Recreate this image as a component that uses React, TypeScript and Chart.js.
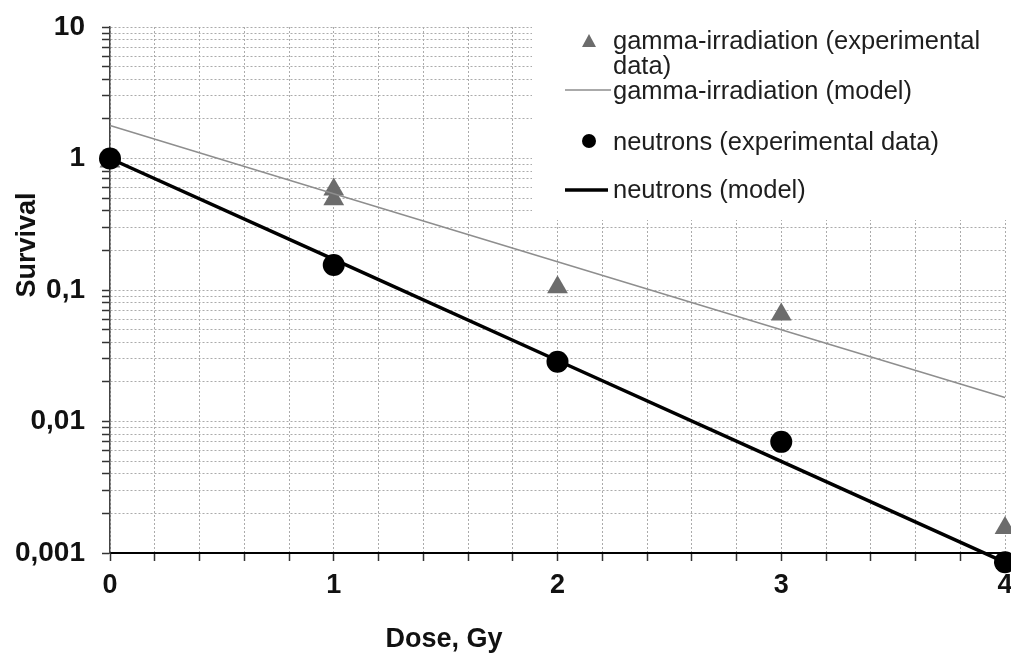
import React, { useEffect, useRef } from 'react';
import { Chart, registerables } from 'chart.js';

Chart.register(...registerables);

// ---- data ----
const doses = [0, 1, 2, 3, 4];
const gammaExpDoses = [0, 1, 1, 2, 3, 4];
const gammaExpSurvival = [0.95, 0.58, 0.49, 0.105, 0.065, 0.00155];
const gammaModelSurvival = [1.78, 0.54, 0.164, 0.0498, 0.0152];
const neutronExpSurvival = [1.0, 0.155, 0.0285, 0.007, 0.00085];
const neutronModelSurvival = [1.0, 0.171, 0.0291, 0.00498, 0.00085];

const yDecades = [0.001, 0.01, 0.1, 1];
const yMajorTicks = [0.001, 0.01, 0.1, 1, 10];
const yTickLabels = ['0,001', '0,01', '0,1', '1', '10'];
const xTickLabels = ['0', '1', '2', '3', '4'];

const legendLabels = [
  ['gamma-irradiation (experimental', 'data)'],
  ['gamma-irradiation (model)'],
  ['neutrons (experimental data)'],
  ['neutrons (model)'],
];
const xTitle = 'Dose, Gy';
const yTitle = 'Survival';

const FONT = '"Liberation Sans", Arial, sans-serif';
const GAMMA_PT = '#6c6c6c';
const GAMMA_LINE = '#8e8e8e';
const GRID = '#ababab';

const yTickValues: number[] = [];
yDecades.forEach((d) => {
  for (let m = 1; m <= 9; m++) yTickValues.push(parseFloat((d * m).toPrecision(6)));
});
yTickValues.push(yMajorTicks[yMajorTicks.length - 1]);

const pts = (xs: number[], ys: number[]) => xs.map((x, i) => ({ x, y: ys[i] }));

const overlayPlugin = {
  id: 'overlay',
  beforeDatasetsDraw(chart: any) {
    const ctx = chart.ctx;
    ctx.save();
    // white legend panel covering the grid
    ctx.fillStyle = '#ffffff';
    ctx.fillRect(532, 0, chart.width - 532, 220);

    ctx.font = `25.5px ${FONT}`;
    ctx.fillStyle = '#1e1e1e';
    ctx.textAlign = 'left';
    ctx.textBaseline = 'middle';
    const tx = 613;
    // row 1: triangle
    ctx.fillStyle = GAMMA_PT;
    ctx.beginPath();
    ctx.moveTo(589, 34);
    ctx.lineTo(596, 47);
    ctx.lineTo(582, 47);
    ctx.closePath();
    ctx.fill();
    ctx.fillStyle = '#1e1e1e';
    ctx.fillText(legendLabels[0][0], tx, 42);
    ctx.fillText(legendLabels[0][1], tx, 67);
    // row 2: thin gray line
    ctx.strokeStyle = GAMMA_LINE;
    ctx.lineWidth = 1.5;
    ctx.beginPath();
    ctx.moveTo(565, 90);
    ctx.lineTo(611, 90);
    ctx.stroke();
    ctx.fillText(legendLabels[1][0], tx, 92);
    // row 3: circle
    ctx.fillStyle = '#000';
    ctx.beginPath();
    ctx.arc(589, 141, 7, 0, Math.PI * 2);
    ctx.fill();
    ctx.fillStyle = '#1e1e1e';
    ctx.fillText(legendLabels[2][0], tx, 143);
    // row 4: thick black line
    ctx.strokeStyle = '#000';
    ctx.lineWidth = 3.5;
    ctx.beginPath();
    ctx.moveTo(565, 190);
    ctx.lineTo(608, 190);
    ctx.stroke();
    ctx.fillText(legendLabels[3][0], tx, 191);
    ctx.restore();
  },
  afterDraw(chart: any) {
    const ctx = chart.ctx;
    ctx.save();
    ctx.fillStyle = '#111';
    ctx.font = `bold 27px ${FONT}`;
    ctx.textAlign = 'center';
    ctx.textBaseline = 'middle';
    ctx.fillText(xTitle, 444, 640);
    ctx.translate(28, 245);
    ctx.rotate(-Math.PI / 2);
    ctx.fillText(yTitle, 0, 0);
    ctx.restore();
  },
};

export default function App() {
  const ref = useRef<HTMLCanvasElement | null>(null);

  useEffect(() => {
    if (!ref.current) return;
    const chart = new Chart(ref.current, {
      type: 'scatter',
      data: {
        datasets: [
          {
            label: legendLabels[2][0],
            data: pts(doses, neutronExpSurvival),
            pointStyle: 'circle',
            pointRadius: 11,
            backgroundColor: '#000',
            borderColor: '#000',
            borderWidth: 0,
            showLine: false,
            clip: false,
            order: 1,
          },
          {
            label: legendLabels[3][0],
            data: pts(doses, neutronModelSurvival),
            showLine: true,
            borderColor: '#000',
            borderWidth: 3.5,
            pointRadius: 0,
            clip: false,
            order: 2,
          },
          {
            label: legendLabels[1][0],
            data: pts(doses, gammaModelSurvival),
            showLine: true,
            borderColor: GAMMA_LINE,
            borderWidth: 1.5,
            pointRadius: 0,
            clip: false,
            order: 3,
          },
          {
            label: legendLabels[0].join(' '),
            data: pts(gammaExpDoses, gammaExpSurvival),
            pointStyle: 'triangle',
            pointRadius: 12,
            backgroundColor: GAMMA_PT,
            borderColor: GAMMA_PT,
            borderWidth: 0,
            showLine: false,
            clip: false,
            order: 4,
          },
        ],
      },
      options: {
        animation: false,
        responsive: true,
        maintainAspectRatio: false,
        layout: { padding: { top: 27, right: 7, left: 0, bottom: 0 } },
        plugins: {
          legend: { display: false },
          tooltip: { enabled: false },
          title: { display: false },
        },
        scales: {
          x: {
            type: 'linear',
            min: 0,
            max: 4,
            afterFit: (s: any) => {
              s.height = 106;
              s.paddingLeft = 0;
              s.paddingRight = 0;
            },
            ticks: {
              stepSize: 0.2,
              autoSkip: false,
              maxRotation: 0,
              padding: 8,
              color: '#111',
              font: { family: FONT, size: 27, weight: 'bold' },
              callback: (v: any) => {
                const n = Number(v);
                const r = Math.round(n);
                return Math.abs(n - r) < 1e-6 ? xTickLabels[r] ?? '' : '';
              },
            },
            grid: {
              color: GRID,
              lineWidth: 1,
              tickLength: 8,
              tickColor: '#333',
              tickWidth: 1.5,
            },
            border: { color: '#000', width: 2, dash: [2, 2] },
          },
          y: {
            type: 'logarithmic',
            min: 0.001,
            max: 10,
            afterFit: (s: any) => {
              s.width = 110;
              s.paddingTop = 0;
              s.paddingBottom = 0;
            },
            afterBuildTicks: (s: any) => {
              s.ticks = yTickValues.map((v) => ({ value: v }));
            },
            ticks: {
              autoSkip: false,
              padding: 17,
              color: '#111',
              font: { family: FONT, size: 28, weight: 'bold' },
              callback: (v: any) => {
                const n = Number(v);
                const i = yMajorTicks.findIndex((m) => Math.abs(n / m - 1) < 1e-6);
                return i >= 0 ? yTickLabels[i] : '';
              },
            },
            grid: {
              color: GRID,
              lineWidth: 1,
              tickLength: 8,
              tickColor: '#333',
              tickWidth: 1.5,
            },
            border: { color: '#444', width: 1.5, dash: [2, 2] },
          },
        },
      },
      plugins: [overlayPlugin],
    } as any);
    return () => chart.destroy();
  }, []);

  return (
    <div style={{ position: 'fixed', left: 0, top: 0, width: 1011, height: 659, overflow: 'hidden', background: '#fff' }}>
      <div style={{ position: 'absolute', left: 0, top: 0, width: 1017, height: 659 }}>
        <canvas ref={ref} />
      </div>
    </div>
  );
}
